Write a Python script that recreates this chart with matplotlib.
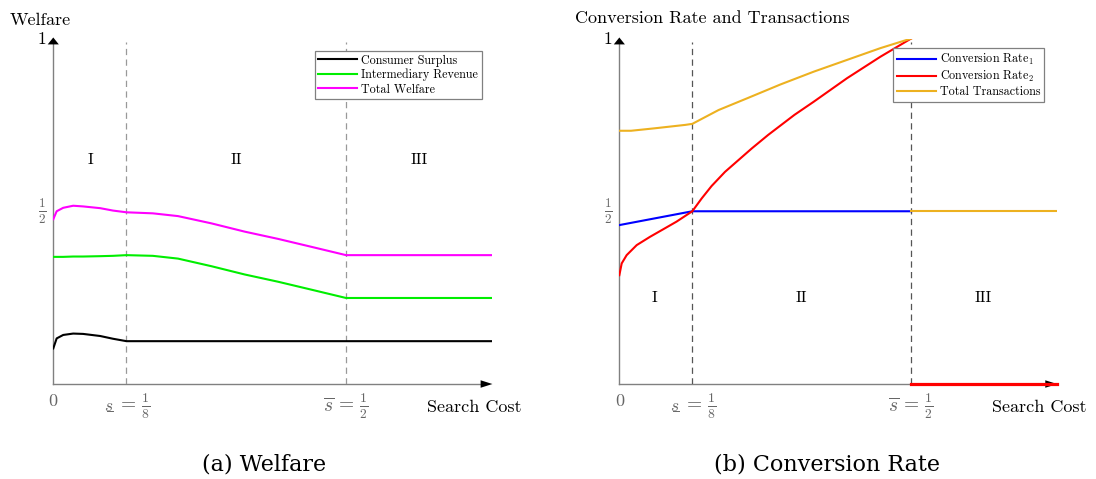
import matplotlib
matplotlib.use("Agg")
import matplotlib.pyplot as plt
import matplotlib.transforms as mtransforms

plt.rcParams['font.family'] = ['cmr10', 'DejaVu Serif']
plt.rcParams['mathtext.fontset'] = 'cm'
plt.rcParams['axes.unicode_minus'] = False
plt.rcParams['axes.formatter.use_mathtext'] = True

# panel (a): welfare vs search cost
s_a = [0.0, 0.0058, 0.017, 0.034, 0.051, 0.08, 0.102, 0.125, 0.17, 0.213, 0.27, 0.327, 0.384, 0.441, 0.5, 0.75]
consumer = [0.103, 0.132, 0.142, 0.146, 0.145, 0.139, 0.131, 0.124, 0.124, 0.124, 0.124, 0.124, 0.124, 0.124,
            0.124, 0.124]
revenue = [0.368, 0.368, 0.368, 0.369, 0.369, 0.37, 0.371, 0.373, 0.371, 0.363, 0.341, 0.317, 0.296, 0.273,
           0.249, 0.249]
total = [0.477, 0.5, 0.51, 0.516, 0.514, 0.509, 0.502, 0.497, 0.494, 0.486, 0.465, 0.441, 0.42, 0.397,
         0.373, 0.373]

# panel (b): conversion rates and transactions
s_rate1 = [0.0, 0.125, 0.5]
rate1 = [0.46, 0.5, 0.5]
s_rate2 = [0.0, 0.004, 0.0125, 0.0297, 0.0525, 0.0753, 0.098, 0.125, 0.141, 0.158, 0.181, 0.204, 0.227,
           0.255, 0.30, 0.333, 0.39, 0.447, 0.5]
rate2 = [0.315, 0.349, 0.373, 0.402, 0.426, 0.448, 0.47, 0.5, 0.537, 0.573, 0.614, 0.648, 0.682,
         0.721, 0.779, 0.817, 0.885, 0.947, 1.0]
s_trans = [0.0, 0.02, 0.06, 0.113, 0.125, 0.17, 0.219, 0.276, 0.333, 0.39, 0.447, 0.5]
trans = [0.733, 0.733, 0.74, 0.75, 0.753, 0.793, 0.827, 0.867, 0.904, 0.938, 0.972, 1.0]
s_tail = [0.5, 0.75]
rate2_tail = [0.0, 0.0]
trans_tail = [0.5, 0.5]

fig = plt.figure(figsize=(10.96, 4.79), dpi=100)
ax1 = fig.add_axes([0.0486, 0.1983, 0.4007, 0.7213])
ax2 = fig.add_axes([0.5651, 0.1983, 0.3994, 0.7213])

GREY = '#666666'


def frame(ax, vline_color):
    ax.set_xlim(0, 0.75)
    ax.set_ylim(0, 1)
    for sp in ax.spines.values():
        sp.set_visible(False)
    ax.set_xticks([])
    ax.set_yticks([])
    ax.plot([0, 0.735], [0, 0], color='#808080', lw=1.0, clip_on=False, zorder=1)
    ax.plot([0, 0], [0, 0.99], color='#808080', lw=1.0, clip_on=False, zorder=1)
    ax.annotate('', xy=(0.75, 0), xytext=(0.72, 0),
                arrowprops=dict(arrowstyle='-|>,head_length=0.85,head_width=0.27', color='black', lw=0,
                                mutation_scale=10, shrinkA=0, shrinkB=0),
                annotation_clip=False)
    ax.annotate('', xy=(0, 1.003), xytext=(0, 0.96),
                arrowprops=dict(arrowstyle='-|>,head_length=0.5,head_width=0.4', color='black', lw=0,
                                mutation_scale=10, shrinkA=0, shrinkB=0),
                annotation_clip=False)
    for xv in [0.125, 0.5]:
        ax.plot([xv, xv], [0, 0.99], color=vline_color, lw=0.9, ls=(0, (5, 3.5)), zorder=1)
    ax.annotate('1', xy=(0, 1.0), xytext=(-5, -0.5), textcoords='offset points',
                ha='right', va='center', fontsize=12.5, annotation_clip=False)
    ax.annotate(r'$\frac{1}{2}$', xy=(0, 0.5), xytext=(-5, 0), textcoords='offset points',
                ha='right', va='center', fontsize=13.5, color=GREY, annotation_clip=False)
    ax.annotate('0', xy=(0, 0), xytext=(0, -7), textcoords='offset points',
                ha='center', va='top', fontsize=13, color=GREY, annotation_clip=False)
    # lower threshold: underlined s
    ax.annotate(r'$=\,\frac{1}{8}$', xy=(0.125, 0), xytext=(-7, -5), textcoords='offset points',
                ha='left', va='top', fontsize=14, color=GREY, annotation_clip=False)
    ax.annotate(r'$s$', xy=(0.125, 0), xytext=(-9.2, -10.5), textcoords='offset points',
                ha='right', va='top', fontsize=12.5, color=GREY, annotation_clip=False)
    under = mtransforms.offset_copy(ax.transData, fig=fig, x=-13.8, y=-19.6, units='points')
    ax.plot([0.125, 0.125 + 0.0105], [0, 0], color=GREY, lw=0.7, transform=under, clip_on=False)
    ax.annotate(r'$\overline{s}\,=\,\frac{1}{2}$', xy=(0.5, 0), xytext=(0, -5), textcoords='offset points',
                ha='center', va='top', fontsize=14, color=GREY, annotation_clip=False)
    ax.text(0.80, -0.068, 'Search Cost', ha='right', va='center', fontsize=13)


def legend(ax, anchor):
    leg = ax.legend(loc='upper right', bbox_to_anchor=anchor, fontsize=8.7, handlelength=3.2,
                    frameon=True, fancybox=False, borderpad=0.3, labelspacing=0.17, handletextpad=0.35,
                    borderaxespad=0, framealpha=1)
    leg.get_frame().set_edgecolor('#808080')
    leg.get_frame().set_linewidth(0.9)


frame(ax1, '#999999')
ax1.plot(s_a, consumer, color='black', lw=1.5, label='Consumer Surplus')
ax1.plot(s_a, revenue, color='#00ee00', lw=1.5, label='Intermediary Revenue')
ax1.plot(s_a, total, color='#ff00ff', lw=1.5, label='Total Welfare')
for xv, lab in [(0.063, 'I'), (0.312, 'II'), (0.625, 'III')]:
    ax1.text(xv, 0.649, lab, ha='center', va='center', fontsize=11.5)
legend(ax1, (0.976, 0.964))

frame(ax2, '#555555')
ax2.plot(s_rate1, rate1, color='#0000ff', lw=1.5, label=r'Conversion Rate$_1$')
ax2.plot(s_rate2, rate2, color='#ff0000', lw=1.5, label=r'Conversion Rate$_2$')
ax2.plot(s_trans, trans, color='#edb120', lw=1.5, label='Total Transactions')
ax2.plot(s_tail, rate2_tail, color='#ff0000', lw=2.3, clip_on=False, zorder=3)
ax2.plot(s_tail, trans_tail, color='#edb120', lw=1.5)
for xv, lab in [(0.06, 'I'), (0.312, 'II'), (0.623, 'III')]:
    ax2.text(xv, 0.249, lab, ha='center', va='center', fontsize=11.5)
legend(ax2, (0.970, 0.972))

fig.text(10 / 1096, 0.958, 'Welfare', ha='left', va='center', fontsize=13)
fig.text(575 / 1096, 0.962, 'Conversion Rate and Transactions', ha='left', va='center', fontsize=13)

fig.text(0.2405, 0.031, '(a) Welfare', ha='center', va='center', fontsize=16, family='DejaVu Serif')
fig.text(0.7545, 0.031, '(b) Conversion Rate', ha='center', va='center', fontsize=16, family='DejaVu Serif')

fig.savefig('out.png', dpi=100)
